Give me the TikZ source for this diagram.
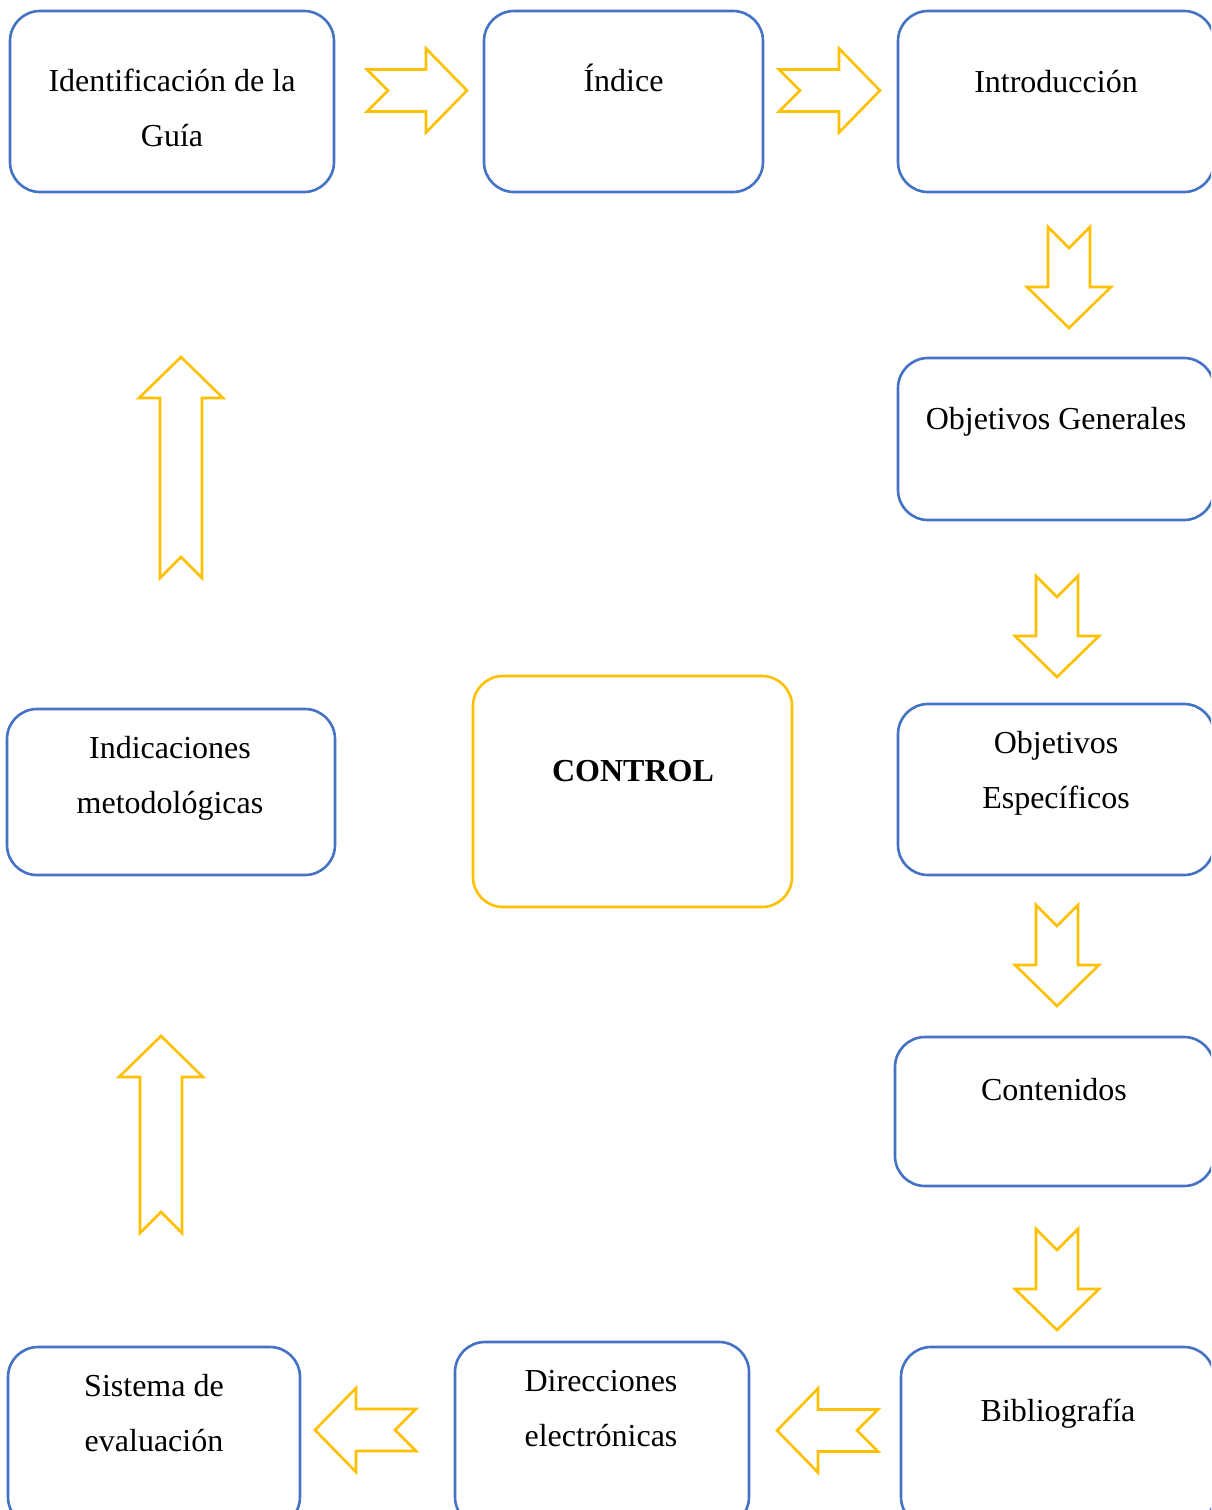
\documentclass[tikz,border=0pt]{standalone}
\usepackage{fontspec}
\setmainfont{Liberation Serif}
\definecolor{boxblue}{HTML}{4472C4}
\definecolor{arrowyellow}{HTML}{FFC000}
\tikzset{
  box/.style={draw=boxblue, line width=2.6pt, rounded corners=30pt, inner sep=0pt},
  ctrlbox/.style={draw=arrowyellow, line width=2.6pt, rounded corners=30pt, inner sep=0pt},
  txt/.style={anchor=base, inner sep=0pt, font=\fontsize{32}{55}\selectfont},
  pics/blockarrow/.style={code={
    \draw[arrowyellow, line width=2.6pt, line join=miter]
      (0,21) -- (#1-41,21) -- (#1-41,42) -- (#1,0) -- (#1-41,-42) -- (#1-41,-21)
      -- (0,-21) -- (21,0) -- cycle;
  }}
}
\begin{document}
\begin{tikzpicture}[x=1pt,y=-1pt]
\useasboundingbox (0,0) rectangle (1211,1510);
\clip (0,0) rectangle (1211,1510);
\fill[white] (0,0) rectangle (1211,1510);

% boxes
\node[box, minimum width=324pt, minimum height=181pt] (ident) at (172,101.5) {};
\node[box, minimum width=279pt, minimum height=181pt] (indice) at (623.5,101.5) {};
\node[box, minimum width=316pt, minimum height=181pt] (intro) at (1056,101.5) {};
\node[box, minimum width=316pt, minimum height=162pt] (objgen) at (1056,439) {};
\node[box, minimum width=316pt, minimum height=171pt] (objesp) at (1056,789.5) {};
\node[box, minimum width=319pt, minimum height=149pt] (cont) at (1054.5,1111.5) {};
\node[box, minimum width=313pt, minimum height=180pt] (biblio) at (1057.5,1437) {};
\node[box, minimum width=294pt, minimum height=185pt] (direc) at (602,1434.5) {};
\node[box, minimum width=292pt, minimum height=180pt] (sist) at (154,1437) {};
\node[box, minimum width=328pt, minimum height=166pt] (indic) at (171,792) {};
\node[ctrlbox, minimum width=319pt, minimum height=231pt] (control) at (632.5,791.5) {};

% texts
\node[txt] (t1a) at (172,91) {Identificación de la};
\node[txt] (t1b) at (172,146) {Guía};
\node[txt] (t2) at (623.5,91) {Índice};
\node[txt] (t3) at (1056,92) {Introducción};
\node[txt] (t4) at (1056,429) {Objetivos Generales};
\node[txt] (t5a) at (1056,753) {Objetivos};
\node[txt] (t5b) at (1056,808) {Específicos};
\node[txt] (t6) at (1054,1100) {Contenidos};
\node[txt] (t7) at (1058,1421) {Bibliografía};
\node[txt] (t8a) at (601,1391) {Direcciones};
\node[txt] (t8b) at (601,1446) {electrónicas};
\node[txt] (t9a) at (154,1396) {Sistema de};
\node[txt] (t9b) at (154,1451) {evaluación};
\node[txt] (t10a) at (170,758) {Indicaciones};
\node[txt] (t10b) at (170,813) {metodológicas};
\node[txt, font=\fontsize{32}{55}\selectfont\bfseries] (t11) at (633,781) {CONTROL};

% block arrows
\pic at (367,90.5) {blockarrow=100};
\pic at (779,90.5) {blockarrow=101};
\pic[rotate=-90] at (1069,227) {blockarrow=101};
\pic[rotate=-90] at (1057,576) {blockarrow=101};
\pic[rotate=-90] at (1057,905) {blockarrow=101};
\pic[rotate=-90] at (1057,1229) {blockarrow=101};
\pic[rotate=180] at (878,1430.5) {blockarrow=101};
\pic[rotate=180] at (416,1430) {blockarrow=101};
\pic[rotate=90] at (161,1233) {blockarrow=197};
\pic[rotate=90] at (181,578) {blockarrow=221};
\end{tikzpicture}
\end{document}
